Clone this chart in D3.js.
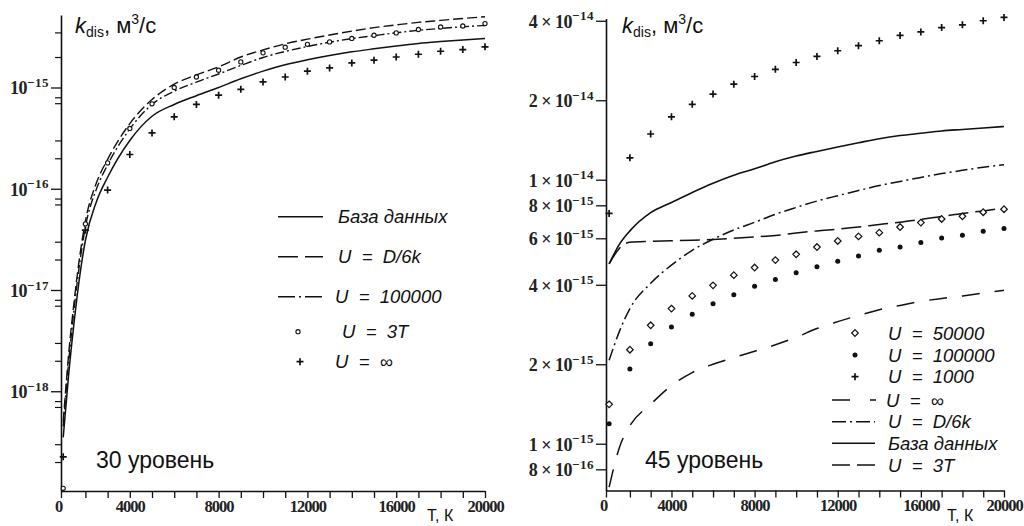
<!DOCTYPE html>
<html>
<head>
<meta charset="utf-8">
<script src="https://cdnjs.cloudflare.com/ajax/libs/d3/7.8.5/d3.min.js"></script>
<style>
  body { margin: 0; background: #fff; }
  svg { display: block; }
</style>
</head>
<body>
<div id="chart"></div>
<script>

// temperature grids
var tSteps = [1000, 2000, 3000, 4000, 5000, 6000, 7000, 8000, 9000, 10000,
              11000, 12000, 13000, 14000, 15000, 16000, 17000, 18000, 19000, 20000]
var tLeftLine = [1000, 1250, 1500, 1750, 2000, 2500, 3000, 4000, 5000, 6000, 7000, 8000,
                 9000, 10000, 11000, 12000, 13000, 14000, 15000, 16000, 17000, 18000, 19000, 20000]
var tRightLine = [1000, 1500, 2000, 3000, 4000, 5000, 6000, 7000, 8000, 9000, 10000,
                  11000, 12000, 13000, 14000, 15000, 16000, 17000, 18000, 19000, 20000]

// left panel: level 30
var leftBase = [3.5e-19, 1.5e-18, 5e-18, 1.4e-17, 3.1e-17, 7.5e-17, 1.3e-16, 3.0e-16, 5.2e-16, 6.8e-16, 8.3e-16, 1.0e-15,
                1.22e-15, 1.45e-15, 1.68e-15, 1.88e-15, 2.07e-15, 2.25e-15, 2.41e-15, 2.57e-15, 2.72e-15, 2.84e-15, 2.95e-15, 3.05e-15]
var leftD6k = [5e-19, 2.4e-18, 8e-18, 2.2e-17, 4.8e-17, 1.15e-16, 1.95e-16, 4.4e-16, 7.6e-16, 1.08e-15, 1.33e-15, 1.6e-15,
               2.0e-15, 2.35e-15, 2.7e-15, 3.0e-15, 3.3e-15, 3.6e-15, 3.9e-15, 4.15e-15, 4.4e-15, 4.6e-15, 4.8e-15, 5.0e-15]
var leftU100000 = [4.5e-19, 2e-18, 6.8e-18, 1.9e-17, 4.2e-17, 1.0e-16, 1.72e-16, 3.9e-16, 6.8e-16, 9.2e-16, 1.13e-15, 1.36e-15,
                   1.65e-15, 1.98e-15, 2.27e-15, 2.54e-15, 2.8e-15, 3.04e-15, 3.25e-15, 3.47e-15, 3.67e-15, 3.83e-15, 3.98e-15, 4.1e-15]
var leftU3T = [1.1e-19, 4.5e-17, 1.8e-16, 3.94e-16, 6.9e-16, 1.0e-15, 1.27e-15, 1.48e-15, 1.79e-15, 2.2e-15,
               2.5e-15, 2.67e-15, 2.82e-15, 3.05e-15, 3.28e-15, 3.46e-15, 3.74e-15, 3.96e-15, 4.05e-15, 4.28e-15]
var leftUinf = [2.25e-19, 3.9e-17, 9.7e-17, 2.18e-16, 3.56e-16, 5.13e-16, 6.8e-16, 8.4e-16, 9.6e-16, 1.135e-15,
                1.27e-15, 1.45e-15, 1.56e-15, 1.75e-15, 1.86e-15, 2.0e-15, 2.13e-15, 2.28e-15, 2.37e-15, 2.52e-15]

// right panel: level 45
var rightU50000 = [1.41e-15, 2.27e-15, 2.81e-15, 3.25e-15, 3.63e-15, 3.98e-15, 4.35e-15, 4.65e-15, 4.96e-15, 5.22e-15,
                   5.56e-15, 5.86e-15, 6.1e-15, 6.3e-15, 6.62e-15, 6.88e-15, 7.1e-15, 7.27e-15, 7.53e-15, 7.73e-15]
var rightU100000 = [1.19e-15, 1.92e-15, 2.39e-15, 2.77e-15, 3.09e-15, 3.39e-15, 3.67e-15, 3.95e-15, 4.19e-15, 4.44e-15,
                    4.68e-15, 4.91e-15, 5.14e-15, 5.4e-15, 5.56e-15, 5.78e-15, 6.01e-15, 6.16e-15, 6.38e-15, 6.53e-15]
var rightU1000 = [7.45e-15, 1.21e-14, 1.49e-14, 1.73e-14, 1.93e-14, 2.11e-14, 2.3e-14, 2.46e-14, 2.62e-14, 2.78e-14,
                  2.93e-14, 3.08e-14, 3.22e-14, 3.36e-14, 3.52e-14, 3.63e-14, 3.77e-14, 3.86e-14, 4.0e-14, 4.12e-14]
var rightUinf = [4.8e-15, 5.5e-15, 5.8e-15, 5.84e-15, 5.87e-15, 5.9e-15, 5.94e-15, 6.0e-15, 6.07e-15, 6.15e-15, 6.28e-15,
                 6.4e-15, 6.5e-15, 6.62e-15, 6.77e-15, 6.9e-15, 7.08e-15, 7.25e-15, 7.45e-15, 7.62e-15, 7.8e-15]
var rightD6k = [2.07e-15, 2.67e-15, 3.25e-15, 4.05e-15, 4.75e-15, 5.4e-15, 5.95e-15, 6.45e-15, 6.9e-15, 7.4e-15, 7.85e-15,
                8.3e-15, 8.7e-15, 9.1e-15, 9.5e-15, 9.85e-15, 1.02e-14, 1.055e-14, 1.085e-14, 1.115e-14, 1.14e-14]
var rightBase = [4.8e-15, 5.7e-15, 6.4e-15, 7.5e-15, 8.2e-15, 8.95e-15, 9.7e-15, 1.04e-14, 1.1e-14, 1.17e-14, 1.23e-14,
                 1.28e-14, 1.33e-14, 1.38e-14, 1.43e-14, 1.47e-14, 1.5e-14, 1.53e-14, 1.55e-14, 1.57e-14, 1.59e-14]
var rightU3T = [6.85e-16, 9.7e-16, 1.17e-15, 1.41e-15, 1.66e-15, 1.86e-15, 2.0e-15, 2.12e-15, 2.24e-15, 2.37e-15, 2.53e-15,
                2.73e-15, 2.9e-15, 3.06e-15, 3.22e-15, 3.34e-15, 3.46e-15, 3.55e-15, 3.63e-15, 3.72e-15, 3.81e-15]

// ticks
var xTickValues = [0, 4000, 8000, 12000, 16000, 20000]
var xTickLabels = ["0", "4000", "8000", "12000", "16000", "20000"]
var leftYTicks = [1e-18, 1e-17, 1e-16, 1e-15]
var leftYMinor = [2e-19, 3e-19, 7e-19, 8e-19, 2e-18, 3e-18, 7e-18, 8e-18, 2e-17, 3e-17, 7e-17, 8e-17,
                  2e-16, 3e-16, 7e-16, 8e-16, 2e-15, 3.5e-15]
var rightYTicks = [8e-16, 1e-15, 2e-15, 4e-15, 6e-15, 8e-15, 1e-14, 2e-14, 4e-14]

var leftNames = ["База данных", "U = D/6k", "U = 100000", "U = 3T", "U = ∞"]
var rightNames = ["U = 50000", "U = 100000", "U = 1000", "U = ∞", "U = D/6k", "База данных", "U = 3T"]

var ink = "#111"
var sans = "'Liberation Sans', Arial, sans-serif"
var serif = "'Liberation Serif', 'Times New Roman', serif"

var svg = d3.select("#chart")
  .append("svg")
    .attr("width", 1024)
    .attr("height", 526)

svg.append("rect").attr("width", 1024).attr("height", 526).attr("fill", "#fff")

var xL = d3.scaleLinear().domain([900, 20000]).range([61, 485]).clamp(true)
var yL = d3.scaleLog().domain([1.035e-19, 5.2e-15]).range([491, 15])
var xR = d3.scaleLinear().domain([850, 20000]).range([606, 1004]).clamp(true)
var yR = d3.scaleLog().domain([6.65e-16, 4.08e-14]).range([490.5, 18.5])

var xMinor = [0].concat(d3.range(2000, 20001, 1000))

function drawXAxis(x, y0) {
  var g = svg.append("g")
    .attr("transform", "translate(0," + y0 + ")")
    .call(d3.axisBottom(x)
      .tickValues(xMinor)
      .tickSize(7)
      .tickPadding(2)
      .tickSizeOuter(0)
      .tickFormat(function(d) {
        var i = xTickValues.indexOf(d)
        return i < 0 ? "" : xTickLabels[i]
      }))
  g.select(".domain").attr("stroke", ink).attr("stroke-width", 1.6)
  g.selectAll(".tick line").attr("stroke", ink).attr("stroke-width", 1.3)
  g.selectAll(".tick text")
    .attr("fill", "#222")
    .style("font-family", serif)
    .style("font-size", "16.5px")
    .style("font-weight", "bold")
    .style("letter-spacing", "-1px")
  g.selectAll(".tick").filter(function(d) { return d === 0 }).select("text").attr("dx", -3)
}

function drawYAxis(y, x0, majors, minors, labelFn) {
  var g = svg.append("g")
    .attr("transform", "translate(" + x0 + ",0)")
    .call(d3.axisLeft(y).tickValues(majors).tickSize(10).tickSizeOuter(0).tickFormat(""))
  g.select(".domain").attr("stroke", ink).attr("stroke-width", 1.6)
  g.selectAll(".tick line").attr("stroke", ink).attr("stroke-width", 1.3)
  if (minors) {
    var m = svg.append("g")
      .attr("transform", "translate(" + x0 + ",0)")
      .call(d3.axisLeft(y).tickValues(minors).tickSize(6).tickFormat(""))
    m.select(".domain").remove()
    m.selectAll(".tick line").attr("stroke", ink).attr("stroke-width", 1.2)
  }
  majors.forEach(function(d) {
    var exp = Math.floor(Math.log10(d) + 1e-9)
    var mant = Math.round(d / Math.pow(10, exp))
    var t = svg.append("text")
      .attr("x", x0 - 12)
      .attr("y", y(d) + 7)
      .attr("text-anchor", "end")
      .attr("fill", "#222")
      .style("font-family", serif)
      .style("font-size", "18px")
      .style("font-weight", "bold")
      .style("letter-spacing", "-0.5px")
    t.append("tspan").text(labelFn(mant))
    t.append("tspan")
      .attr("dy", -7.5)
      .style("font-size", "13px")
      .style("letter-spacing", "0.5px")
      .text("\u2212" + Math.abs(exp))
  })
}

function drawLine(x, y, ts, vs, dash, w) {
  var line = d3.line()
    .x(function(d) { return x(d[0]) })
    .y(function(d) { return y(d[1]) })
    .curve(d3.curveMonotoneX)
  svg.append("path")
    .datum(d3.zip(ts, vs))
    .attr("d", line)
    .attr("fill", "none")
    .attr("stroke", ink)
    .attr("stroke-width", w || 1.5)
    .attr("stroke-dasharray", dash)
}

function marker(g, kind, cx, cy) {
  if (kind === "plus") {
    g.append("path")
      .attr("d", "M" + (cx - 3.5) + "," + cy + "h7M" + cx + "," + (cy - 3.5) + "v7")
      .attr("stroke", ink).attr("stroke-width", 1.7).attr("fill", "none")
  } else if (kind === "circle") {
    g.append("circle").attr("cx", cx).attr("cy", cy).attr("r", 2.1)
      .attr("fill", "#fff").attr("stroke", ink).attr("stroke-width", 1.1)
  } else if (kind === "diamond") {
    g.append("path")
      .attr("d", "M" + cx + "," + (cy - 3.3) + "l3.3,3.3l-3.3,3.3l-3.3,-3.3z")
      .attr("fill", "#fff").attr("stroke", ink).attr("stroke-width", 1.2)
  } else if (kind === "dot") {
    g.append("circle").attr("cx", cx).attr("cy", cy).attr("r", 2.5).attr("fill", ink)
  }
}

function drawMarkers(x, y, ts, vs, kind) {
  var g = svg.append("g")
  d3.zip(ts, vs).forEach(function(d) { marker(g, kind, x(d[0]), y(d[1])) })
}

function drawTitle(x0, y0) {
  var t = svg.append("text")
    .attr("x", x0).attr("y", y0)
    .attr("fill", ink)
    .style("font-family", sans)
    .style("font-size", "22px")
  t.append("tspan").style("font-style", "italic").text("k")
  t.append("tspan").attr("dy", 4).style("font-size", "14px").text("dis")
  t.append("tspan").attr("dy", -4).text(", м")
  t.append("tspan").attr("dy", -9).style("font-size", "14px").text("3")
  t.append("tspan").attr("dy", 9).text("/с")
}

function plainText(x0, y0, s, size) {
  svg.append("text")
    .attr("x", x0).attr("y", y0)
    .attr("fill", ink)
    .style("font-family", sans)
    .style("font-size", size + "px")
    .text(s)
}

function legendItem(item) {
  var g = svg.append("g")
  if (item.line) {
    g.append("line")
      .attr("x1", item.x1).attr("x2", item.x2)
      .attr("y1", item.y).attr("y2", item.y)
      .attr("stroke", ink).attr("stroke-width", 1.6)
      .attr("stroke-dasharray", item.dash)
  } else {
    marker(g, item.kind, item.mx, item.y)
  }
  g.append("text")
    .attr("x", item.tx).attr("y", item.y + 6.5)
    .attr("fill", ink)
    .style("font-family", sans)
    .style("font-size", "18.5px")
    .style("font-style", "italic")
    .style("white-space", "pre")
    .text(item.label.replace(/ = /, "  =  "))
}

// ---------- left panel ----------
drawXAxis(xL, 491)
drawYAxis(yL, 61, leftYTicks, leftYMinor, function() { return "10" })

drawLine(xL, yL, tLeftLine, leftBase, null, 1.5)
drawLine(xL, yL, tLeftLine, leftD6k, "10,4", 1.4)
drawLine(xL, yL, tLeftLine, leftU100000, "9,3,2,3", 1.4)
drawMarkers(xL, yL, tSteps, leftU3T, "circle")
drawMarkers(xL, yL, tSteps, leftUinf, "plus")

drawTitle(75, 33)
plainText(96, 468, "30 уровень", 23)
plainText(427, 521, "Т, К", 16)

var leftRows = [216.7, 256.7, 296.7, 331.7, 361.7]
legendItem({ line: true, dash: null, x1: 278, x2: 323, y: leftRows[0], tx: 338, label: leftNames[0] })
legendItem({ line: true, dash: "20,7", x1: 278, x2: 323, y: leftRows[1], tx: 338, label: leftNames[1] })
legendItem({ line: true, dash: "17,4,2,4", x1: 278, x2: 323, y: leftRows[2], tx: 335, label: leftNames[2] })
legendItem({ kind: "circle", mx: 298, y: leftRows[3], tx: 342, label: leftNames[3] })
legendItem({ kind: "plus", mx: 300, y: leftRows[4], tx: 335, label: leftNames[4] })

// ---------- right panel ----------
drawXAxis(xR, 490.5)
drawYAxis(yR, 606, rightYTicks, null, function(m) { return m + " \u00d7 10" })

drawLine(xR, yR, tRightLine, rightBase, null, 1.6)
drawLine(xR, yR, tRightLine, rightD6k, "12,4,2,4", 1.5)
drawLine(xR, yR, tRightLine, rightUinf, "20,7", 1.5)
drawLine(xR, yR, tRightLine, rightU3T, "18,15", 1.5)
drawMarkers(xR, yR, tSteps, rightU50000, "diamond")
drawMarkers(xR, yR, tSteps, rightU100000, "dot")
drawMarkers(xR, yR, tSteps, rightU1000, "plus")

drawTitle(622, 33)
plainText(645, 468, "45 уровень", 23)
plainText(947, 521, "Т, К", 16)

var rightRows = [333, 355, 376.7, 400, 421.7, 443.3, 465]
legendItem({ kind: "diamond", mx: 855, y: rightRows[0], tx: 888, label: rightNames[0] })
legendItem({ kind: "dot", mx: 855, y: rightRows[1], tx: 888, label: rightNames[1] })
legendItem({ kind: "plus", mx: 855, y: rightRows[2], tx: 888, label: rightNames[2] })
legendItem({ line: true, dash: "18,20", x1: 832, x2: 876, y: rightRows[3], tx: 886, label: rightNames[3] })
legendItem({ line: true, dash: "14,4,2,4", x1: 832, x2: 875, y: rightRows[4], tx: 888, label: rightNames[4] })
legendItem({ line: true, dash: null, x1: 832, x2: 875, y: rightRows[5], tx: 888, label: rightNames[5] })
legendItem({ line: true, dash: "18,7", x1: 832, x2: 875, y: rightRows[6], tx: 888, label: rightNames[6] })

</script>
</body>
</html>
